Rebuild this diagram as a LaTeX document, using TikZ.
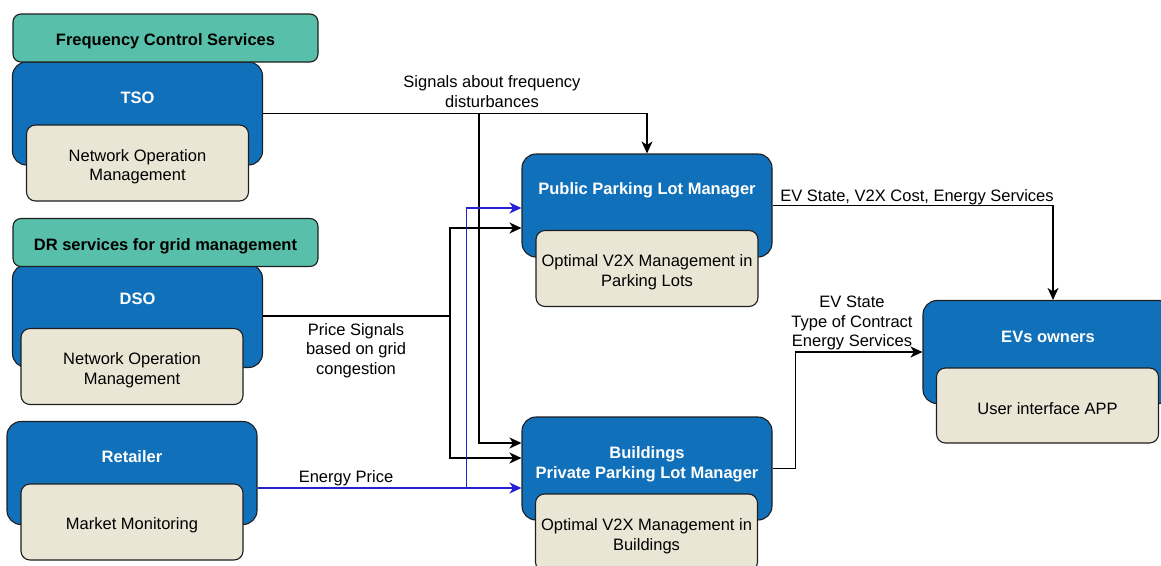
\documentclass[tikz,border=0pt]{standalone}
\usepackage{fontspec}
\setmainfont{Liberation Sans}
\usetikzlibrary{arrows.meta,calc}
\definecolor{tealbox}{RGB}{88,192,170}
\definecolor{bluebox}{RGB}{17,112,186}
\definecolor{beigebox}{RGB}{234,230,214}
\definecolor{outline}{RGB}{30,30,30}
\definecolor{pricelink}{RGB}{35,35,205}

\begin{document}
\begin{tikzpicture}[x=1pt,y=-1pt,
  font=\fontsize{16.5}{19.5}\selectfont,
  role/.style={draw=outline, line width=1.1pt, fill=bluebox, rounded corners=14pt,
    minimum width=250pt, minimum height=103pt, inner sep=0pt},
  service/.style={draw=outline, line width=1.1pt, fill=tealbox, rounded corners=8pt,
    minimum width=305pt, minimum height=48pt, inner sep=0pt},
  task/.style={draw=outline, line width=1.1pt, fill=beigebox, rounded corners=9pt,
    minimum width=222pt, minimum height=76pt, inner sep=0pt},
  boxtext/.style={align=center, inner sep=0pt, yshift=-3.5pt},
  servicetext/.style={boxtext, font=\fontsize{16.5}{19.5}\selectfont\bfseries},
  title/.style={text=white, align=center, inner sep=0pt, font=\fontsize{16.5}{19.5}\selectfont\bfseries},
  caption/.style={align=center, inner sep=0pt},
  wire/.style={draw=black, line width=1.2pt},
  link/.style={wire, -{Stealth[length=12pt,width=11pt,inset=3.5pt]}},
  pricewire/.style={draw=pricelink, line width=1.2pt, -{Stealth[length=12pt,width=11pt,inset=3.5pt]}},
]
\useasboundingbox (0,0) rectangle (1161,565);

% grid operators and retailer (left column)
\node[role] (tso) at (137.5,113.5) {};
\node[service, label={[servicetext, name=fcst]center:Frequency Control Services}] (fcs) at (165.5,38) {};
\node[title] (tsot) at (137.5,98) {TSO};
\node[task, label={[boxtext, name=tsoit]center:Network Operation\\Management}] (tsoi) at (137.5,163) {};

\node[role] (dso) at (137.5,316) {};
\node[service, label={[servicetext, name=drst]center:DR services for grid management}] (drs) at (165.5,242.5) {};
\node[title] (dsot) at (137.5,299) {DSO};
\node[task, label={[boxtext, name=dsoit]center:Network Operation\\Management}] (dsoi) at (132,366.5) {};

\node[role] (ret) at (132,473) {};
\node[title] (rett) at (132,457) {Retailer};
\node[task, label={[boxtext, name=retit]center:Market Monitoring}] (reti) at (132,522) {};

% parking lot managers (middle column)
\node[role] (pub) at (647,205.5) {};
\node[title] (pubt) at (647,190.5) {Public Parking Lot Manager};
\node[task, label={[boxtext, name=pubit]center:Optimal V2X Management in\\Parking Lots}] (pubi) at (647,268.5) {};

\node[role] (priv) at (647,468.5) {};
\node[title] (privt) at (647,464.5) {Buildings\\Private Parking Lot Manager};
\node[task, minimum height=77pt, label={[boxtext, name=privit]center:Optimal V2X Management in\\Buildings}] (privi) at (646.5,532.5) {};

% EV owners (right)
\node[role] (ev) at (1048,352) {};
\node[title] (evt) at (1048,337) {EVs owners};
\node[task, minimum height=75pt, label={[boxtext, name=evit]center:User interface APP}] (evi) at (1047.5,405.5) {};

% frequency signals from the TSO
\coordinate (tsoj) at ($(tso.east)+(216,0)$);
\draw[link] (tso.east) -| (pub.north);
\draw[link] (tsoj) |- ($(priv.west)+(0,-25.5)$);
\node[caption] (tsol) at (492,91.5) {Signals about frequency\\disturbances};

% congestion price signals from the DSO
\coordinate (dsoj) at ($(dso.east)+(187,0)$);
\draw[wire] (dso.east) -- (dsoj);
\draw[link] (dsoj) |- ($(pub.west)+(0,22.5)$);
\draw[link] (dsoj) |- ($(priv.west)+(0,-10.5)$);
\node[caption] (dsol) at (356,350.5) {Price Signals\\based on grid\\congestion};

% energy price from the retailer
\coordinate (retj) at ($(ret.east)+(209,15)$);
\draw[pricewire] ($(ret.east)+(0,15)$) -- ($(priv.west)+(0,19.5)$);
\draw[pricewire] (retj) |- ($(pub.west)+(0,2.5)$);
\node[caption] (retl) at (346,478) {Energy Price};

% information towards the EV owners
\draw[link] (pub.east) -| ($(ev.north)+(5,0)$);
\node[caption] (publ) at (917,197) {EV State, V2X Cost, Energy Services};
\draw[link] (priv.east) -- ++(23,0) |- (ev.west);
\node[caption] (privl) at (852,323) {EV State\\Type of Contract\\Energy Services};
\end{tikzpicture}
\end{document}
